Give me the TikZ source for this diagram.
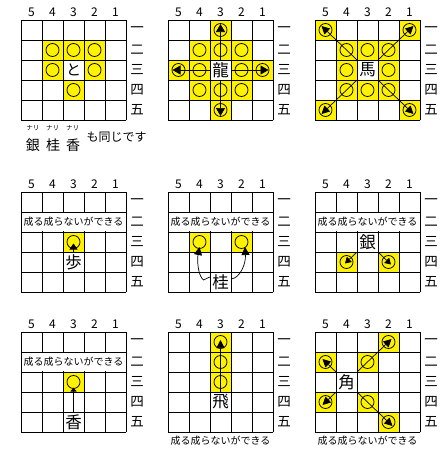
\documentclass[tikz,border=0pt]{standalone}
\usepackage{fontspec}
\setmainfont{Noto Sans CJK JP}
\usetikzlibrary{arrows.meta}
\newcommand\board[1]{%
  \foreach \i in {0,...,5} {\draw[gridline] (21*\i,0) -- (21*\i,100);}
  \foreach \j in {0,...,5} {\draw[gridline] (0,20*\j) -- (105,20*\j);}
  \foreach \c in {1,...,5} {\node[numlab] (#1n\c) at ({10.5+21*(5-\c)},-7.5) {\c};}
  \foreach \r/\k in {1/一,2/二,3/三,4/四,5/五} {\node[rowlab] (#1r\r) at (116,{10+20*(\r-1)}) {\k};}
}
\newcommand\cells[1]{%
  \foreach \c in {1,...,5} {\foreach \r in {1,...,5} {\coordinate (#1-\c\r) at ({10.5+21*(5-\c)},{10+20*(\r-1)});}}}
\newcommand\yc[2]{\fill[yellow] ({21*(5-#1)},{20*(#2-1)}) rectangle ++(21,20);}
\newcommand\mk[3]{\draw[mv] (#1-#2#3) circle[radius=6.5pt];}
\newcommand\rowtext[1]{%
  \fill[white] (0.7,20.7) rectangle (104.3,39.3);
  \node[nari] (#1txt) at (52.5,30) {成る成らないができる};}
\begin{document}
\begin{tikzpicture}[x=1pt,y=-1pt,
  gridline/.style={line width=0.9pt,line cap=rect},
  mv/.style={line width=0.75pt},
  arr/.style={line width=0.7pt,-{Triangle[length=8pt,width=8pt]}},
  piece/.style={minimum width=21pt,minimum height=20pt,inner sep=0pt,font=\fontsize{16.5}{16.5}\selectfont},
  numlab/.style={inner sep=0pt,font=\fontsize{12}{12}\selectfont},
  rowlab/.style={inner sep=0pt,font=\fontsize{13.5}{13.5}\selectfont},
  nari/.style={inner sep=0pt,font=\fontsize{10}{10}\selectfont},
  small/.style={inner sep=0pt,font=\fontsize{6.5}{7}\selectfont},
  lbl/.style={inner sep=0pt,font=\fontsize{14}{14}\selectfont},
  lbl2/.style={inner sep=0pt,font=\fontsize{12}{12}\selectfont}]
\useasboundingbox[fill=white] (0,0) rectangle (442,453);

% ---------- Panel A: と ----------
\begin{scope}[shift={(21,20)}]
  \cells{A}
  \foreach \c/\r in {4/2,3/2,2/2,4/3,2/3,3/4} {\yc{\c}{\r}}
  \board{A}
  \foreach \c/\r in {4/2,3/2,2/2,4/3,2/3,3/4} {\mk{A}{\c}{\r}}
  \node[piece,font=\fontsize{15}{15}\selectfont] (to) at (A-33) {と};
\end{scope}
\node[small] (nari1) at (33,128) {ナリ};
\node[small] (nari2) at (52.5,128) {ナリ};
\node[small] (nari3) at (72.5,128) {ナリ};
\node[lbl] (gin0) at (33,145.5) {銀};
\node[lbl] (kei0) at (53,145.5) {桂};
\node[lbl] (kyo0) at (73,145.5) {香};
\node[lbl2] (same) at (116.5,137) {も同じです};

% ---------- Panel B: 龍 ----------
\begin{scope}[shift={(168,20)}]
  \cells{B}
  \foreach \c/\r in {3/1,4/2,3/2,2/2,5/3,4/3,2/3,1/3,4/4,3/4,2/4,3/5} {\yc{\c}{\r}}
  \board{B}
  \node[piece] (ryu) at (B-33) {龍};
  \coordinate (Bt1) at ([yshift=6pt]B-31);
  \coordinate (Bt2) at ([yshift=-6pt]B-35);
  \coordinate (Bt3) at ([xshift=-6pt]B-53);
  \coordinate (Bt4) at ([xshift=6pt]B-13);
  \draw[arr,-{Triangle[length=8pt,width=9pt]}] (ryu) -- (Bt1);
  \draw[arr,-{Triangle[length=8pt,width=9pt]}] (ryu) -- (Bt2);
  \draw[arr,-{Triangle[length=8pt,width=9pt]}] (ryu) -- (Bt3);
  \draw[arr,-{Triangle[length=8pt,width=9pt]}] (ryu) -- (Bt4);
  \foreach \c/\r in {3/1,4/2,3/2,2/2,5/3,4/3,2/3,1/3,4/4,3/4,2/4,3/5} {\mk{B}{\c}{\r}}
\end{scope}

% ---------- Panel C: 馬 ----------
\begin{scope}[shift={(315,20)}]
  \cells{C}
  \foreach \c/\r in {5/1,1/1,4/2,3/2,2/2,4/3,2/3,4/4,3/4,2/4,5/5,1/5} {\yc{\c}{\r}}
  \board{C}
  \node[piece] (uma) at (C-33) {馬};
  \coordinate (Ct1) at ([shift={(-4pt,4pt)}]C-51);
  \coordinate (Ct2) at ([shift={(4pt,4pt)}]C-11);
  \coordinate (Ct3) at ([shift={(-4pt,-4pt)}]C-55);
  \coordinate (Ct4) at ([shift={(4pt,-4pt)}]C-15);
  \draw[arr] (uma) -- (Ct1);
  \draw[arr] (uma) -- (Ct2);
  \draw[arr] (uma) -- (Ct3);
  \draw[arr] (uma) -- (Ct4);
  \foreach \c/\r in {5/1,1/1,4/2,3/2,2/2,4/3,2/3,4/4,3/4,2/4,5/5,1/5} {\mk{C}{\c}{\r}}
\end{scope}

% ---------- Panel D: 歩 ----------
\begin{scope}[shift={(21,192)}]
  \cells{D}
  \yc{3}{3}
  \board{D}
  \rowtext{D}
  \node[piece] (fu) at (D-34) {歩};
  \coordinate (Dt) at ([yshift=-1.5pt]D-33);
  \draw[arr,-{Triangle[length=6pt,width=8pt]}] (fu) -- (Dt);
  \mk{D}{3}{3}
\end{scope}

% ---------- Panel E: 桂 ----------
\begin{scope}[shift={(168,192)}]
  \cells{E}
  \yc{4}{3}\yc{2}{3}
  \board{E}
  \rowtext{E}
  \node[piece] (kei) at (E-35) {桂};
  \coordinate (Eh) at (35.5,88);
  \coordinate (EtL) at (31.5,55);
  \coordinate (EtR) at (77,55);
  \draw[arr] ([yshift=5pt]kei.west) -- (Eh) .. controls (30,84) and (29,68) .. (EtL);
  \draw[arr] ([yshift=3pt]kei.east) .. controls (72,86) and (78,72) .. (EtR);
  \mk{E}{4}{3}\mk{E}{2}{3}
\end{scope}

% ---------- Panel F: 銀 ----------
\begin{scope}[shift={(315,192)}]
  \cells{F}
  \yc{4}{4}\yc{2}{4}
  \board{F}
  \rowtext{F}
  \node[piece] (gin) at (F-33) {銀};
  \coordinate (FtL) at ([shift={(-1.5pt,-1.5pt)}]F-44);
  \coordinate (FtR) at ([shift={(2.5pt,-2.5pt)}]F-24);
  \draw[arr,-{Triangle[length=6pt,width=7pt]}] (gin) -- (FtL);
  \draw[arr,-{Triangle[length=6pt,width=7pt]}] (gin) -- (FtR);
  \mk{F}{4}{4}\mk{F}{2}{4}
\end{scope}

% ---------- Panel G: 香 ----------
\begin{scope}[shift={(21,332)}]
  \cells{G}
  \yc{3}{3}
  \board{G}
  \rowtext{G}
  \node[piece] (kyo) at (G-35) {香};
  \coordinate (Gt) at ([yshift=-5.5pt]G-33);
  \draw[arr,-{Triangle[length=4pt,width=6pt]}] (kyo) -- (Gt);
  \mk{G}{3}{3}
\end{scope}

% ---------- Panel H: 飛 ----------
\begin{scope}[shift={(168,332)}]
  \cells{H}
  \yc{3}{1}\yc{3}{2}\yc{3}{3}
  \board{H}
  \node[piece] (hi) at (H-34) {飛};
  \coordinate (Ht) at ([yshift=2pt]H-31);
  \draw[arr] (hi) -- (Ht);
  \mk{H}{3}{1}\mk{H}{3}{2}\mk{H}{3}{3}
  \node[nari] (Htxt) at (52.5,109) {成る成らないができる};
\end{scope}

% ---------- Panel I: 角 ----------
\begin{scope}[shift={(315,332)}]
  \cells{I}
  \foreach \c/\r in {5/2,3/2,2/1,5/4,3/4,2/5} {\yc{\c}{\r}}
  \board{I}
  \node[piece] (kaku) at (I-43) {角};
  \coordinate (It1) at ([shift={(-3pt,3pt)}]I-52);
  \coordinate (It2) at ([shift={(3pt,3pt)}]I-21);
  \coordinate (It3) at ([shift={(-3pt,-3pt)}]I-54);
  \coordinate (It4) at ([shift={(4pt,-4pt)}]I-25);
  \draw[arr] (kaku) -- (It1);
  \draw[arr] (kaku) -- (It2);
  \draw[arr] (kaku) -- (It3);
  \draw[arr] (kaku) -- (It4);
  \foreach \c/\r in {5/2,3/2,2/1,5/4,3/4,2/5} {\mk{I}{\c}{\r}}
  \node[nari] (Itxt) at (52.5,109) {成る成らないができる};
\end{scope}
\end{tikzpicture}
\end{document}
